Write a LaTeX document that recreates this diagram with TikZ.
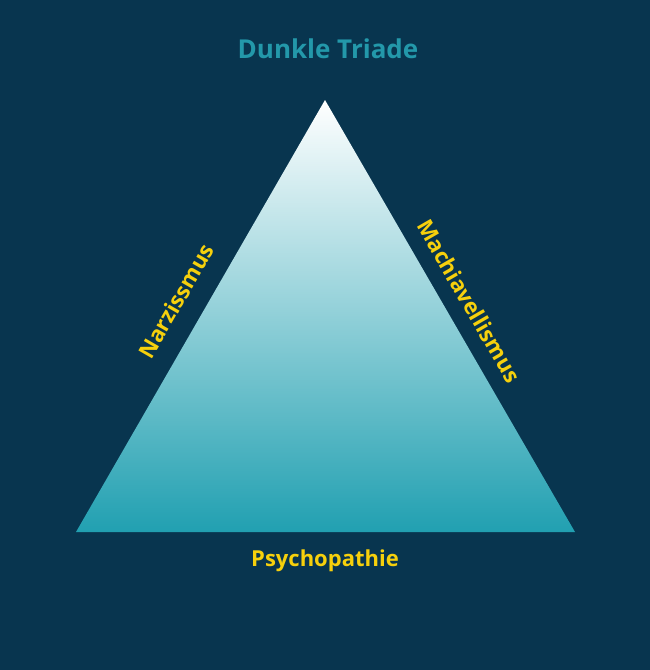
\documentclass[tikz,border=0pt]{standalone}
\usepackage{fontspec}
\setmainfont{Open Sans}
\definecolor{bgnavy}{HTML}{08354F}
\definecolor{tealbase}{HTML}{21A0B1}
\definecolor{titleteal}{HTML}{2398AA}
\definecolor{labyellow}{HTML}{F6D00C}
\tikzset{
  lab/.style={text=labyellow, font=\bfseries\fontsize{22}{26}\selectfont, inner sep=0pt},
  ttl/.style={text=titleteal, font=\bfseries\fontsize{26}{30}\selectfont, inner sep=0pt}
}
\begin{document}
\begin{tikzpicture}[x=1pt,y=-1pt]
\fill[bgnavy] (0,0) rectangle (650,670);
\useasboundingbox (0,0) rectangle (650,670);
\coordinate (apex) at (325,100);
\coordinate (bl) at (76,532);
\coordinate (br) at (575,532);
\shade[top color=white, bottom color=tealbase] (apex) -- (br) -- (bl) -- cycle;
\node[ttl] (title) at (328,49) {Dunkle Triade};
\node[lab, rotate=60] (narz) at (176,301) {Narzissmus};
\node[lab, rotate=-60] (mach) at (469,301) {Machiavellismus};
\node[lab] (psych) at (325,561) {Psychopathie};
\end{tikzpicture}
\end{document}
